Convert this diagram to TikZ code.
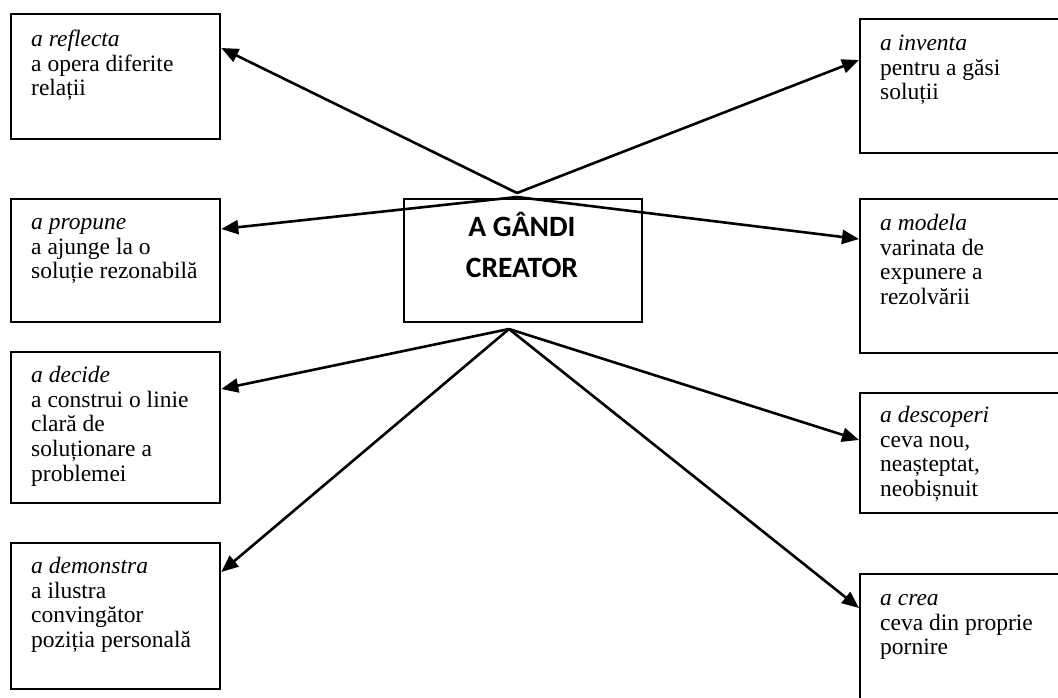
\documentclass[tikz,border=0pt]{standalone}
\usepackage{fontspec}
\setmainfont{Liberation Serif}
\newfontfamily\headfont{Carlito}
\usetikzlibrary{arrows.meta,calc}

\tikzset{
  box/.style={draw, line width=2.3pt, rectangle, inner sep=0pt, anchor=north west},
  boxtext/.style={anchor=north west, inner sep=0pt, align=left,
    font=\fontsize{23.5}{24.8}\selectfont},
  headtext/.style={anchor=north, inner sep=0pt, align=center,
    font=\headfont\bfseries\fontsize{29.5}{41}\selectfont},
  link/.style={line width=2.6pt, -{Triangle[length=17pt,width=14pt]}}
}

\begin{document}
\begin{tikzpicture}[x=1pt,y=-1pt]
\useasboundingbox (0,0) rectangle (1058,697);
\clip (0,0) rectangle (1058,697);

% left column
\node[box, minimum width=209pt, minimum height=125pt] (refl) at (10,13) {};
\node[box, minimum width=209pt, minimum height=123pt] (prop) at (10,198) {};
\node[box, minimum width=209pt, minimum height=151pt] (deci) at (10,351) {};
\node[box, minimum width=209pt, minimum height=146pt] (demo) at (10,542) {};

% right column (boxes run past the right margin)
\node[box, minimum width=209pt, minimum height=134pt] (inve) at (859,18) {};
\node[box, minimum width=209pt, minimum height=154pt] (mode) at (859,198) {};
\node[box, minimum width=209pt, minimum height=120pt] (desc) at (859,392) {};
\node[box, minimum width=209pt, minimum height=140pt] (crea) at (859,573) {};

% central box
\node[box, minimum width=238pt, minimum height=123pt] (core) at (403,198) {};
\node[headtext] (coretext) at (522,207.3) {\strut A GÂNDI\\CREATOR\strut};

% box texts
\node[boxtext] (refltext) at ($(refl.north west)+(21,15.8)$)
  {\strut\textit{a reflecta}\\a opera diferite\\relații};
\node[boxtext] (proptext) at ($(prop.north west)+(21,13.8)$)
  {\strut\textit{a propune}\\a ajunge la o\\soluție rezonabilă};
\node[boxtext] (decitext) at ($(deci.north west)+(21,13.8)$)
  {\strut\textit{a decide}\\a construi o linie\\clară de\\soluționare a\\problemei};
\node[boxtext] (demotext) at ($(demo.north west)+(21,13.8)$)
  {\strut\textit{a demonstra}\\a ilustra\\convingător\\poziția personală};
\node[boxtext] (invetext) at ($(inve.north west)+(21,14.8)$)
  {\strut\textit{a inventa}\\pentru a găsi\\soluții};
\node[boxtext] (modetext) at ($(mode.north west)+(21,14.8)$)
  {\strut\textit{a modela}\\varinata de\\expunere a\\rezolvării};
\node[boxtext] (desctext) at ($(desc.north west)+(21,12.8)$)
  {\strut\textit{a descoperi}\\ceva nou,\\neașteptat,\\neobișnuit};
\node[boxtext] (creatext) at ($(crea.north west)+(21,14.8)$)
  {\strut\textit{a crea}\\ceva din proprie\\pornire};

% arrow origins
\coordinate (apex) at (517,193);
\coordinate (topmid) at (517,197);
\coordinate (base) at (509,329);

% connectors
\draw[link] (apex) -- ($(refl.north east)+(0,35)$);
\draw[link] (apex) -- ($(inve.north west)+(0,42)$);
\draw[link] (topmid) -- ($(prop.north east)+(0,31)$);
\draw[link] (topmid) -- ($(mode.north west)+(0,41)$);
\draw[link] (base) -- ($(deci.north east)+(0,38)$);
\draw[link] (base) -- ($(demo.north east)+(0,30)$);
\draw[link] (base) -- ($(desc.north west)+(0,48)$);
\draw[link] (base) -- ($(crea.north west)+(0,35)$);
\end{tikzpicture}
\end{document}
